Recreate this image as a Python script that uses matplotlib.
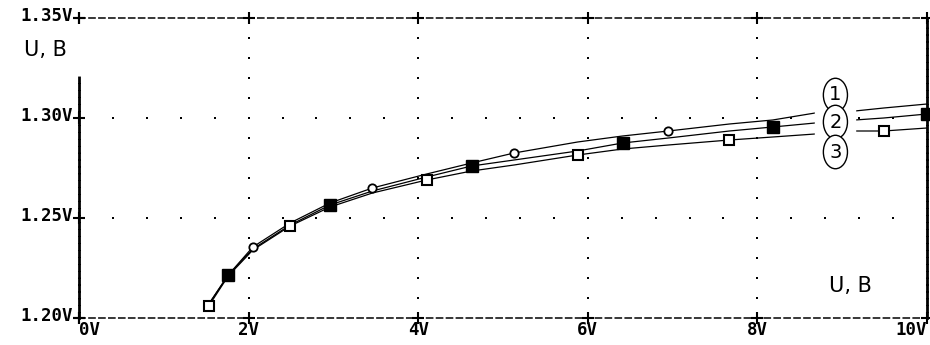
import numpy as np
import matplotlib.pyplot as plt

# curve data (x in V, y in V)
x1 = [1.50, 1.76, 2.05, 2.49, 2.96, 3.46, 4.10, 4.63, 5.13, 5.88, 6.41, 6.95, 7.67, 8.18, 8.68, 9.15, 9.49, 10.0]
y1 = [1.205, 1.2215, 1.2355, 1.2475, 1.2575, 1.265, 1.272, 1.2775, 1.2825, 1.288, 1.291, 1.2935, 1.297, 1.299, 1.3025, 1.3035, 1.305, 1.307]
x2 = [1.50, 1.76, 2.05, 2.49, 2.96, 3.46, 4.10, 4.63, 5.13, 5.88, 6.41, 6.95, 7.67, 8.18, 8.68, 9.15, 9.49, 10.0]
y2 = [1.205, 1.2215, 1.2345, 1.2465, 1.2565, 1.2635, 1.2705, 1.276, 1.279, 1.2835, 1.2875, 1.290, 1.2935, 1.2955, 1.2975, 1.299, 1.300, 1.302]
x3 = [1.53, 1.76, 2.05, 2.49, 2.96, 3.46, 4.10, 4.63, 5.13, 5.88, 6.41, 6.95, 7.67, 8.18, 8.68, 9.15, 9.49, 10.0]
y3 = [1.206, 1.221, 1.234, 1.246, 1.2555, 1.2625, 1.269, 1.2735, 1.2765, 1.2815, 1.2845, 1.2865, 1.289, 1.2905, 1.292, 1.2935, 1.2935, 1.295]

# marker positions on each curve
m1_x = [2.05, 3.46, 5.13, 6.95]
m1_y = [1.2355, 1.265, 1.2825, 1.2935]
m2_x = [1.76, 2.96, 4.63, 6.41, 8.18, 10.0]
m2_y = [1.2215, 1.2565, 1.276, 1.2875, 1.2955, 1.302]
m3_x = [1.53, 2.49, 4.10, 5.88, 7.67, 9.49]
m3_y = [1.206, 1.246, 1.269, 1.2815, 1.289, 1.2935]

x_ticks = [0, 2, 4, 6, 8, 10]
x_labels = ["0V", "2V", "4V", "6V", "8V", "10V"]
y_ticks = [1.20, 1.25, 1.30, 1.35]
y_labels = ["1.20V", "1.25V", "1.30V", "1.35V"]

mono = "DejaVu Sans Mono"

fig = plt.figure(figsize=(9.3, 3.45), dpi=100)
ax = fig.add_axes([79 / 930, 27 / 345, 848 / 930, 300 / 345])
ax.set_xlim(0, 10)
ax.set_ylim(1.20, 1.35)
ax.set_xticks([])
ax.set_yticks([])

# dashed frame
for side in ["top", "bottom"]:
    ax.spines[side].set_linewidth(1.1)
    ax.spines[side].set_linestyle((0, (4, 2.5)))
for side in ["left", "right"]:
    ax.spines[side].set_linewidth(2.0)
    ax.spines[side].set_linestyle((0, (1.6, 0.9)))
ax.spines["left"].set_bounds(1.20, 1.3215)

# dotted grid
for gx in x_ticks[1:-1]:
    gy = np.arange(1.21, 1.35, 0.01)
    ax.plot([gx] * len(gy), gy, ls="none", marker="s", ms=1.5, mew=0, color="black", zorder=1)
for gy in y_ticks[1:-1]:
    gx = np.arange(0.4, 10.0, 0.4)
    ax.plot(gx, [gy] * len(gx), ls="none", marker="s", ms=1.5, mew=0, color="black", zorder=1)

# crosses at ticks
for tx in x_ticks:
    ax.plot([tx, tx], [1.20, 1.35], ls="none", marker="+", ms=9, mew=1.5, color="black", clip_on=False, zorder=5)
for ty in y_ticks:
    ax.plot([0], [ty], ls="none", marker="+", ms=9, mew=1.5, color="black", clip_on=False, zorder=5)

# curves
for xs, ys in [(x1, y1), (x2, y2), (x3, y3)]:
    ax.plot(xs, ys, color="black", lw=0.9, zorder=2)

ax.plot(m1_x, m1_y, ls="none", marker="o", ms=6, mfc="white", mec="black", mew=1.3, zorder=4, clip_on=False)
ax.plot(m2_x, m2_y, ls="none", marker="s", ms=8, mfc="black", mec="black", zorder=4, clip_on=False)
ax.plot(m3_x, m3_y, ls="none", marker="s", ms=7.5, mfc="white", mec="black", mew=1.5, zorder=4, clip_on=False)

# gap for the curve labels
ax.axvspan(8.68, 9.15, ymin=0.58, ymax=0.74, color="white", zorder=3)
for lab, ly in [("1", 1.3115), ("2", 1.298), ("3", 1.283)]:
    ax.text(8.92, ly, lab, fontsize=14, family="DejaVu Sans", ha="center", va="center", zorder=6,
            bbox=dict(boxstyle="ellipse,pad=0.12", fc="white", ec="black", lw=1.0))

# tick labels
for tx, lab in zip(x_ticks, x_labels):
    ha = "center"
    if tx == 0:
        ha = "left"
    if tx == 10:
        ha = "right"
    ax.text(tx, 1.1985, lab, fontsize=12.5, family=mono, weight="bold", ha=ha, va="top")
for ty, lab in zip(y_ticks, y_labels):
    ax.text(-0.07, ty + 0.001, lab, fontsize=12.5, family=mono, weight="bold", ha="right", va="center")

# axis labels
fig.text(24 / 930, 1 - 50 / 345, "U, В", fontsize=15, family="DejaVu Sans", va="center", ha="left")
ax.text(8.85, 1.216, "U, В", fontsize=15, family="DejaVu Sans", va="center", ha="left")

fig.savefig("out.png", dpi=100, facecolor="white")
